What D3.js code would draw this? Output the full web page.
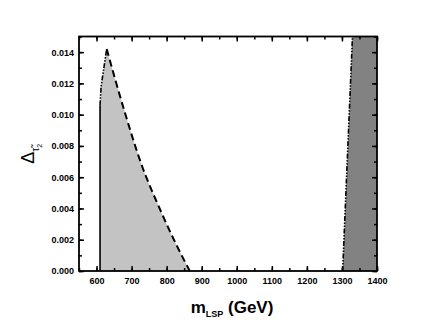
<!DOCTYPE html>
<html>
<head>
<meta charset="utf-8">
<script src="https://cdn.jsdelivr.net/npm/d3@7"></script>
<style>
  body { margin: 0; background: #fff; }
  text { font-family: Arial, "Liberation Sans", sans-serif; }
</style>
</head>
<body>
<svg id="chart" width="437" height="327"></svg>
<script>
// data
const xTicks = [600, 700, 800, 900, 1000, 1100, 1200, 1300, 1400];
const yTicks = [0, 0.002, 0.004, 0.006, 0.008, 0.01, 0.012, 0.014];

// light region: solid vertical edge, dash-dot rise, dashed fall
const solidEdge = [[610, 0], [610, 0.0106]];
const dashDotEdge = [[610, 0.0106], [613, 0.0118], [629, 0.0142]];
const dashedEdge = [[629, 0.0142], [680, 0.0102], [730, 0.0067], [780, 0.0040], [825, 0.0018], [866, 0]];

// dark region boundary (dash-dot)
const darkEdge = [[1302, 0], [1330, 0.015]];

const svg = d3.select('#chart');
const margin = {left: 79, right: 60, top: 36.5, bottom: 56};
const width = 437 - margin.left - margin.right;
const height = 327 - margin.top - margin.bottom;

const x = d3.scaleLinear().domain([550, 1400]).range([0, width]);
const y = d3.scaleLinear().domain([0, 0.015]).range([height, 0]);

const g = svg.append('g')
  .attr('transform', `translate(${margin.left},${margin.top})`);

const line = d3.line().x(d => x(d[0])).y(d => y(d[1]));
const smooth = d3.line().x(d => x(d[0])).y(d => y(d[1])).curve(d3.curveMonotoneX);

// light gray area
const lightPoly = solidEdge.concat(dashDotEdge.slice(1));
g.append('path')
  .attr('d', line(lightPoly) + smooth(dashedEdge).replace(/^M/, 'L') + 'Z')
  .attr('fill', '#c3c3c3');

// dark gray area
const darkPoly = darkEdge.concat([[1400, 0.015], [1400, 0]]);
g.append('path')
  .attr('d', line(darkPoly) + 'Z')
  .attr('fill', '#828282');

g.append('path').attr('d', line(solidEdge))
  .attr('fill', 'none').attr('stroke', '#000').attr('stroke-width', 1.6);
g.append('path').attr('d', line(dashDotEdge))
  .attr('fill', 'none').attr('stroke', '#000').attr('stroke-width', 1.6)
  .attr('stroke-dasharray', '5,1.5,1.5,1.5,1.5,1.5');
g.append('path').attr('d', smooth(dashedEdge))
  .attr('fill', 'none').attr('stroke', '#000').attr('stroke-width', 2)
  .attr('stroke-dasharray', '7,4');
g.append('path').attr('d', line(darkEdge))
  .attr('fill', 'none').attr('stroke', '#000').attr('stroke-width', 1.6)
  .attr('stroke-dasharray', '5,1.5,1.5,1.5,1.5,1.5');

// axes with inward ticks
const xMinor = d3.range(550, 1401, 50);
const yMinor = d3.range(0, 0.0151, 0.001);

function addAxis(axisFn, scale, ticks, len, transform, showLabels, fmt) {
  const a = axisFn(scale).tickValues(ticks).tickSizeInner(-len).tickSizeOuter(0)
    .tickFormat(showLabels ? fmt : '');
  const ag = g.append('g').attr('transform', transform).call(a);
  ag.select('.domain').remove();
  ag.selectAll('.tick line').attr('stroke', '#000').attr('stroke-width', 1.5);
  return ag;
}

const fx = d3.format('d');
const fy = d3.format('.3f');

// bottom
const bx = addAxis(d3.axisBottom, x, xTicks, 5, `translate(0,${height})`, true, fx);
bx.selectAll('.tick text').attr('y', 7).attr('font-size', '9px').attr('font-weight', 'bold').attr('fill', '#000');
addAxis(d3.axisBottom, x, xMinor, 3, `translate(0,${height})`, false);
// top
addAxis(d3.axisTop, x, xTicks, 5, 'translate(0,0)', false);
addAxis(d3.axisTop, x, xMinor, 3, 'translate(0,0)', false);
// left
const ly = addAxis(d3.axisLeft, y, yTicks, 5, 'translate(0,0)', true, fy);
ly.selectAll('.tick text').attr('x', -5).attr('font-size', '9px').attr('font-weight', 'bold').attr('fill', '#000');
addAxis(d3.axisLeft, y, yMinor, 3, 'translate(0,0)', false);
// right
addAxis(d3.axisRight, y, yTicks, 5, `translate(${width},0)`, false);
addAxis(d3.axisRight, y, yMinor, 3, `translate(${width},0)`, false);

// frame
g.append('rect')
  .attr('width', width).attr('height', height)
  .attr('fill', 'none').attr('stroke', '#000').attr('stroke-width', 1.8);

// x axis title
const xt = svg.append('text')
  .attr('x', margin.left + width / 2 + 4)
  .attr('y', 313)
  .attr('text-anchor', 'middle')
  .attr('font-weight', 'bold')
  .attr('font-size', '17px');
xt.append('tspan').text('m');
xt.append('tspan').attr('font-size', '9px').attr('dy', 4).text('LSP');
xt.append('tspan').attr('dy', -4).text(' (GeV)');

// y axis title
const yt = svg.append('text')
  .attr('transform', `translate(34,${margin.top + height / 2}) rotate(-90)`)
  .attr('text-anchor', 'middle')
  .attr('font-size', '18px');
yt.append('tspan').text('\u0394');
yt.append('tspan').attr('font-size', '10px').attr('dy', 5).text('\u03C4\u0303');
yt.append('tspan').attr('font-size', '7px').attr('dy', 3).text('2');
</script>
</body>
</html>
